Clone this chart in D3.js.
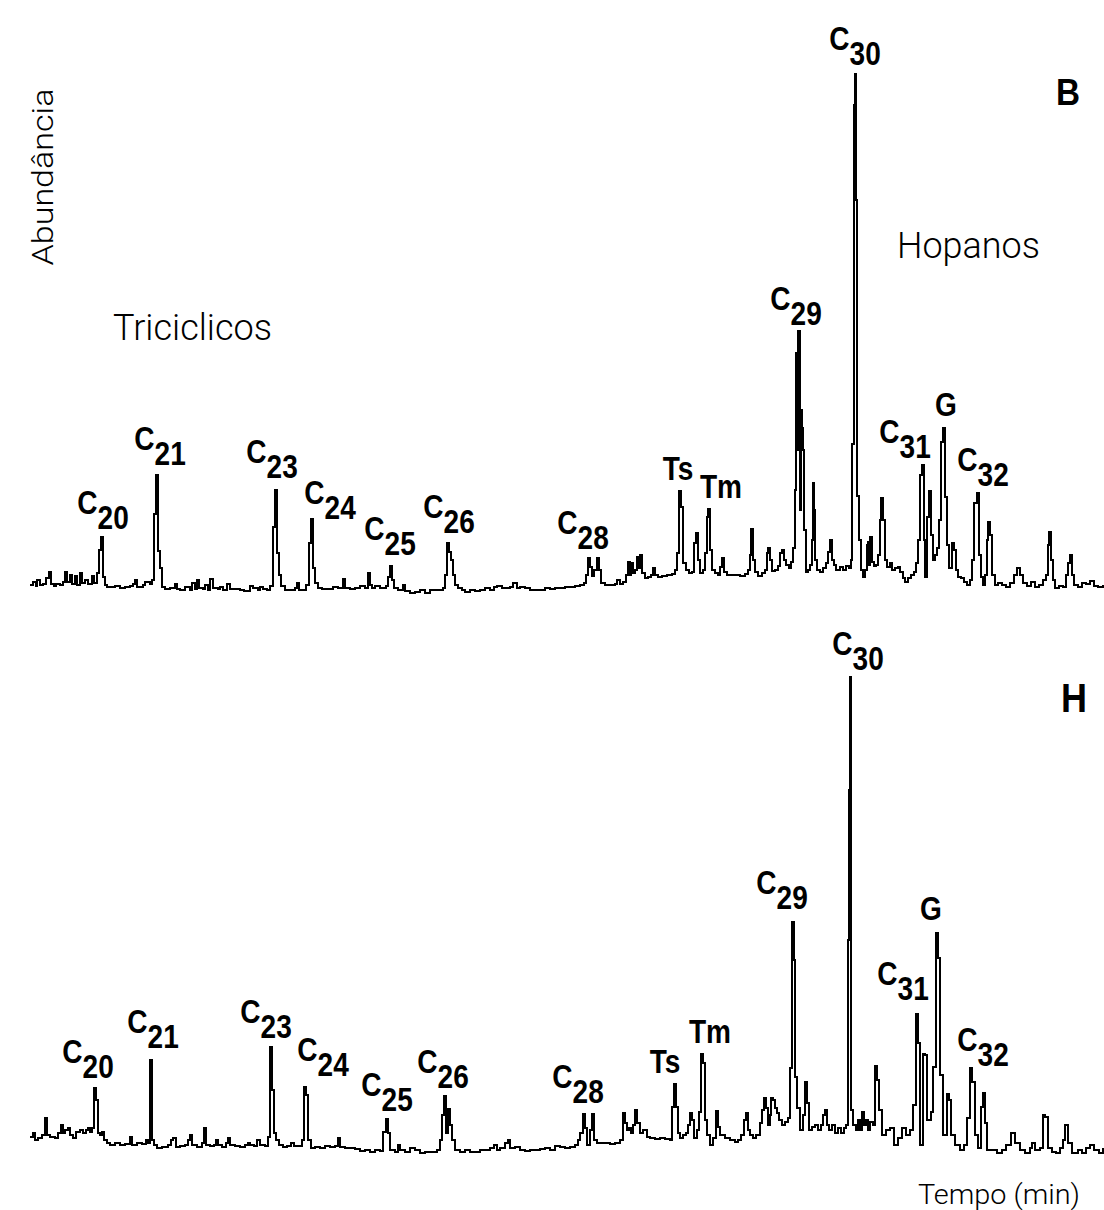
<!DOCTYPE html>
<html>
<head>
<meta charset="utf-8">
<script src="https://cdn.jsdelivr.net/npm/d3@7/dist/d3.min.js"></script>
<style>
    body { margin: 0; background: #fff; }
    svg { display: block; }
</style>
</head>
<body>
<div id="chart"></div>
<script>
// trace data: [retention time (scan), abundance (counts)]
var traceB = [
    [30,15],[33,18],[36,14],[37,20],[40,15],[43,16],[46,22],[49,28],[51,16],[54,14],[56,16],[60,15],[63,18],[65,28],[67,18],[70,25],
    [72,16],[75,24],[77,15],[80,27],[82,17],[85,20],[88,16],[92,24],[94,17],[97,27],[99,50],[101,63],[103,23],[105,15],[107,13],
    [110,13],[115,14],[120,12],[125,13],[130,14],[133,16],[135,20],[137,13],[143,15],[145,18],[150,16],[152,20],[154,86],[156,125],
    [158,49],[160,32],[162,13],[165,11],[170,12],[175,16],[177,11],[180,10],[185,13],[190,10],[192,17],[195,11],[197,20],[199,12],
    [203,11],[205,15],[208,10],[210,21],[213,12],[218,11],[220,13],[223,10],[227,16],[230,11],[235,11],[240,10],[244,9],[250,14],
    [253,12],[258,10],[260,13],[263,11],[267,10],[270,14],[273,73],[275,110],[277,47],[279,25],[281,14],[285,10],[290,10],[295,12],
    [297,17],[299,10],[303,10],[306,15],[309,57],[311,81],[313,32],[315,17],[318,12],[322,11],[328,11],[333,13],[338,12],[343,21],
    [345,12],[350,11],[355,12],[360,14],[365,12],[368,27],[370,15],[372,12],[375,14],[380,12],[386,14],[388,23],[390,34],[392,20],
    [394,12],[398,10],[403,15],[405,9],[410,7],[415,8],[420,10],[425,7],[430,10],[435,10],[440,10],[443,12],[445,25],[447,57],
    [449,48],[451,40],[453,25],[455,15],[458,12],[462,10],[465,8],[470,10],[475,9],[480,10],[485,12],[490,10],[494,13],[497,14],
    [502,12],[507,12],[510,13],[513,17],[517,12],[520,13],[525,12],[530,10],[535,10],[540,10],[545,12],[550,11],[555,12],[560,12],
    [565,13],[570,13],[575,14],[580,15],[584,17],[586,25],[588,42],[590,33],[592,24],[594,30],[597,42],[599,30],[601,17],[605,15],
    [610,15],[615,16],[617,20],[620,16],[623,18],[626,25],[628,38],[630,25],[631,37],[633,27],[635,30],[637,43],[639,32],[640,45],
    [642,27],[645,22],[648,23],[651,25],[653,32],[655,25],[658,23],[662,24],[667,25],[672,26],[675,30],[677,47],[679,109],[681,93],
    [683,37],[686,30],[689,27],[692,28],[694,57],[696,67],[698,40],[700,27],[703,30],[705,47],[707,83],[708,91],[710,50],[712,30],
    [715,27],[718,25],[720,33],[722,42],[724,28],[727,25],[730,25],[735,25],[740,24],[745,26],[748,30],[750,45],[751,71],[753,40],
    [755,28],[758,24],[762,27],[765,30],[767,47],[768,52],[770,40],[772,29],[775,30],[778,34],[780,47],[782,50],[784,40],[786,35],
    [789,32],[791,38],[793,52],[795,110],[796,247],[797,150],[798,269],[800,90],[801,190],[802,172],[803,150],[804,70],[806,28],
    [808,30],[810,35],[812,60],[813,117],[814,90],[815,40],[817,30],[820,28],[823,32],[826,37],[828,48],[830,60],[832,40],[834,35],
    [836,30],[840,33],[843,30],[846,34],[849,32],[851,40],[852,156],[854,495],[855,526],[856,400],[857,104],[859,60],[861,30],
    [863,23],[865,30],[867,55],[868,58],[869,35],[870,63],[872,38],[874,34],[876,35],[878,45],[880,80],[881,102],[883,80],[885,40],
    [887,33],[890,37],[892,30],[895,32],[898,33],[900,28],[903,22],[905,18],[908,22],[911,25],[914,28],[916,37],[918,60],[920,125],
    [922,135],[924,60],[925,23],[927,83],[929,109],[931,65],[933,40],[935,45],[937,52],[939,80],[941,158],[943,172],[945,103],
    [947,55],[949,32],[952,57],[954,50],[956,30],[958,23],[961,22],[964,18],[967,15],[970,20],[972,40],[974,97],[977,107],[979,45],
    [981,23],[983,15],[985,25],[987,60],[988,78],[990,65],[992,25],[995,15],[998,17],[1002,15],[1006,13],[1010,17],[1014,25],
    [1017,32],[1020,25],[1023,17],[1027,14],[1031,18],[1035,13],[1039,15],[1043,20],[1046,25],[1048,55],[1049,68],[1051,40],
    [1053,20],[1055,12],[1059,14],[1063,13],[1066,25],[1068,37],[1070,45],[1072,25],[1074,15],[1078,13],[1082,17],[1086,16],
    [1090,19],[1094,14],[1098,13],[1103,15]
];

var traceH = [
    [30,23],[33,27],[35,20],[38,22],[42,25],[45,42],[47,25],[50,23],[52,23],[55,22],[58,27],[61,35],[63,27],[65,30],[68,32],[70,25],
    [73,22],[76,28],[80,30],[83,27],[86,30],[88,32],[90,28],[92,32],[94,72],[96,60],[98,27],[100,25],[102,28],[104,20],[107,17],
    [110,15],[115,17],[120,15],[125,16],[130,23],[132,15],[137,17],[142,16],[146,20],[148,17],[150,100],[152,20],[154,15],[157,12],
    [162,13],[168,15],[171,20],[173,22],[176,13],[180,14],[185,15],[188,20],[190,25],[192,15],[197,13],[202,17],[204,32],[206,15],
    [210,14],[214,15],[216,20],[218,15],[222,13],[226,17],[228,22],[230,15],[235,14],[240,13],[245,15],[248,17],[250,15],[254,14],
    [257,20],[260,15],[265,14],[268,23],[270,113],[272,70],[274,27],[276,20],[279,15],[283,13],[287,14],[291,17],[294,14],[298,14],
    [302,20],[304,73],[306,65],[308,20],[311,12],[315,13],[320,12],[325,14],[330,13],[335,14],[338,22],[340,13],[345,12],[350,12],
    [355,11],[360,9],[365,10],[370,8],[375,10],[380,9],[383,28],[386,41],[388,27],[390,10],[395,8],[398,15],[400,10],[405,8],
    [410,12],[415,10],[420,7],[425,8],[430,8],[437,10],[440,20],[442,45],[444,64],[446,27],[448,51],[450,35],[452,20],[455,10],
    [460,8],[465,10],[470,8],[475,8],[480,10],[485,10],[490,12],[494,15],[497,10],[500,12],[505,17],[508,20],[510,12],[515,13],
    [520,10],[525,9],[530,10],[535,10],[540,11],[545,12],[550,10],[555,14],[560,13],[565,12],[570,13],[575,15],[578,20],[580,27],
    [583,46],[585,32],[587,15],[590,30],[592,46],[594,20],[597,17],[600,17],[605,17],[610,16],[615,17],[620,20],[623,47],[625,37],
    [627,30],[629,32],[631,27],[633,35],[635,50],[637,37],[640,27],[643,30],[647,23],[650,22],[655,21],[660,22],[665,21],[670,20],
    [672,53],[674,76],[676,53],[678,27],[680,22],[683,25],[686,27],[688,35],[690,47],[692,40],[694,22],[697,30],[699,48],[701,106],
    [703,97],[705,40],[707,25],[710,15],[713,22],[716,49],[718,33],[720,25],[725,22],[730,20],[735,18],[738,20],[741,25],[744,40],
    [746,47],[748,30],[750,25],[753,22],[756,25],[760,37],[762,50],[764,62],[766,52],[768,35],[770,45],[771,62],[773,60],[775,52],
    [777,47],[779,40],[782,35],[785,38],[788,42],[790,92],[792,238],[794,200],[795,83],[797,52],[800,30],[803,45],[805,78],[807,57],
    [809,30],[812,33],[815,35],[818,30],[821,35],[823,45],[825,50],[827,35],[829,30],[832,35],[835,27],[838,32],[841,27],[844,32],
    [846,35],[848,220],[849,370],[850,483],[851,50],[853,35],[856,30],[858,40],[860,30],[862,48],[864,35],[866,40],[868,30],
    [870,38],[873,35],[875,94],[877,80],[879,50],[882,25],[886,30],[890,32],[894,15],[898,22],[902,32],[906,25],[910,30],[913,55],
    [916,146],[918,117],[920,15],[923,106],[925,105],[927,40],[931,48],[933,93],[936,227],[938,202],[940,85],[943,25],[947,66],
    [949,60],[951,25],[955,15],[960,10],[964,15],[967,42],[970,92],[972,78],[975,25],[978,12],[981,53],[983,67],[985,37],[987,10],
    [992,10],[997,7],[1002,10],[1006,15],[1011,27],[1015,17],[1020,10],[1025,7],[1030,12],[1032,17],[1035,10],[1040,12],[1043,45],
    [1045,43],[1048,12],[1052,8],[1056,7],[1060,12],[1063,20],[1065,35],[1068,17],[1072,7],[1078,10],[1082,7],[1086,12],[1090,15],
    [1094,10],[1099,7],[1103,12]
];

// peak identification:
var peakNames = ['C20', 'C21', 'C23', 'C24', 'C25', 'C26', 'C28', 'Ts', 'Tm', 'C29', 'C30', 'C31', 'G', 'C32'];
var peakTimeB = [101, 156, 275, 311, 390, 447, 588, 679, 708, 798, 855, 922, 943, 977];
var peakTimeH = [94, 150, 270, 304, 386, 444, 583, 674, 701, 792, 850, 916, 936, 970];

// label nudges in px from the peak tip [dx, dy] -> layout only
var nudgeB = [[2,-8],[4,-10],[-3,-12],[19,0],[0,-11],[2,-10],[-5,-9],[-1,-11],[13,-11],[-2,-6],[0,-9],[-17,-7],[3,-12],[6,-7]];
var nudgeH = [[-6,-10],[3,-12],[-4,-9],[19,-11],[1,-8],[-1,-8],[-5,-11],[-9,-11],[9,-11],[-10,-13],[8,-7],[-13,-14],[-5,-13],[13,-2]];

var width = 1104, height = 1210;
var labelFont = "'Liberation Sans', Arial, sans-serif";
var textFont = "Roboto, 'Liberation Sans', sans-serif";

var svg = d3.select('#chart').append('svg')
    .attr('width', width)
    .attr('height', height);

svg.append('rect')
    .attr('width', width)
    .attr('height', height)
    .attr('fill', '#ffffff');

// scales:
var x = d3.scaleLinear().domain([30, 1103]).range([30, 1103]);
var yB = d3.scaleLinear().domain([0, 530]).range([600, 70]);
var yH = d3.scaleLinear().domain([0, 490]).range([1160, 670]);

function drawPanel(trace, y, times, nudges) {
    var g = svg.append('g');

    // detector output is stepped, so draw it that way
    var line = d3.line()
        .curve(d3.curveStepAfter)
        .x(function (d) { return x(d[0]); })
        .y(function (d) { return y(d[1]); });

    g.append('path')
        .datum(trace)
        .attr('d', line)
        .attr('fill', 'none')
        .attr('stroke', '#000')
        .attr('stroke-width', 1.4)
        .attr('shape-rendering', 'crispEdges');

    // peak labels sit over the highest point near each peak time
    var peaks = peakNames.map(function (name, i) {
        var t = times[i];
        var tip = d3.max(trace.filter(function (p) { return Math.abs(p[0] - t) <= 2; }), function (p) { return p[1]; });
        return { name: name, t: t, tip: tip, dx: nudges[i][0], dy: nudges[i][1] };
    });

    var lab = g.selectAll('.peak-label')
        .data(peaks)
        .enter().append('g')
        .attr('class', 'peak-label')
        .attr('transform', function (d) {
            return 'translate(' + (x(d.t) + d.dx) + ',' + (y(d.tip) + d.dy) + ') scale(0.85,1)';
        });

    var txt = lab.append('text')
        .attr('text-anchor', 'middle')
        .style('font-family', labelFont)
        .style('font-weight', 'bold')
        .style('font-size', '33px')
        .attr('fill', '#000');

    txt.each(function (d) {
        var el = d3.select(this);
        var m = /^C(\d+)$/.exec(d.name);
        if (m) {
            el.append('tspan').attr('dy', -15).text('C');
            el.append('tspan').attr('dy', 15).text(m[1]);
        } else {
            el.append('tspan').text(d.name);
        }
    });

    return g;
}

drawPanel(traceB, yB, peakTimeB, nudgeB);
drawPanel(traceH, yH, peakTimeH, nudgeH);

// panel letters:
svg.append('text')
    .attr('transform', 'translate(1068,105) scale(0.9,1)')
    .attr('text-anchor', 'middle')
    .style('font-family', labelFont)
    .style('font-weight', 'bold')
    .style('font-size', '37px')
    .text('B');

svg.append('text')
    .attr('transform', 'translate(1074,712) scale(0.9,1)')
    .attr('text-anchor', 'middle')
    .style('font-family', labelFont)
    .style('font-weight', 'bold')
    .style('font-size', '40px')
    .text('H');

// group and axis captions:
function caption(str, tx, ty, size, len, rot) {
    svg.append('text')
        .attr('transform', 'translate(' + tx + ',' + ty + ')' + (rot ? ' rotate(' + rot + ')' : ''))
        .attr('text-anchor', rot ? 'middle' : 'start')
        .attr('textLength', len)
        .attr('lengthAdjust', 'spacingAndGlyphs')
        .style('font-family', textFont)
        .style('font-weight', 300)
        .style('font-size', size + 'px')
        .attr('fill', '#000')
        .text(str);
}

caption('Triciclicos', 113, 340, 37, 159);
caption('Hopanos', 897, 258, 37, 143);
caption('Tempo (min)', 918, 1204, 28, 162);
caption('Abundância', 53, 177, 29, 177, -90);
</script>
</body>
</html>
